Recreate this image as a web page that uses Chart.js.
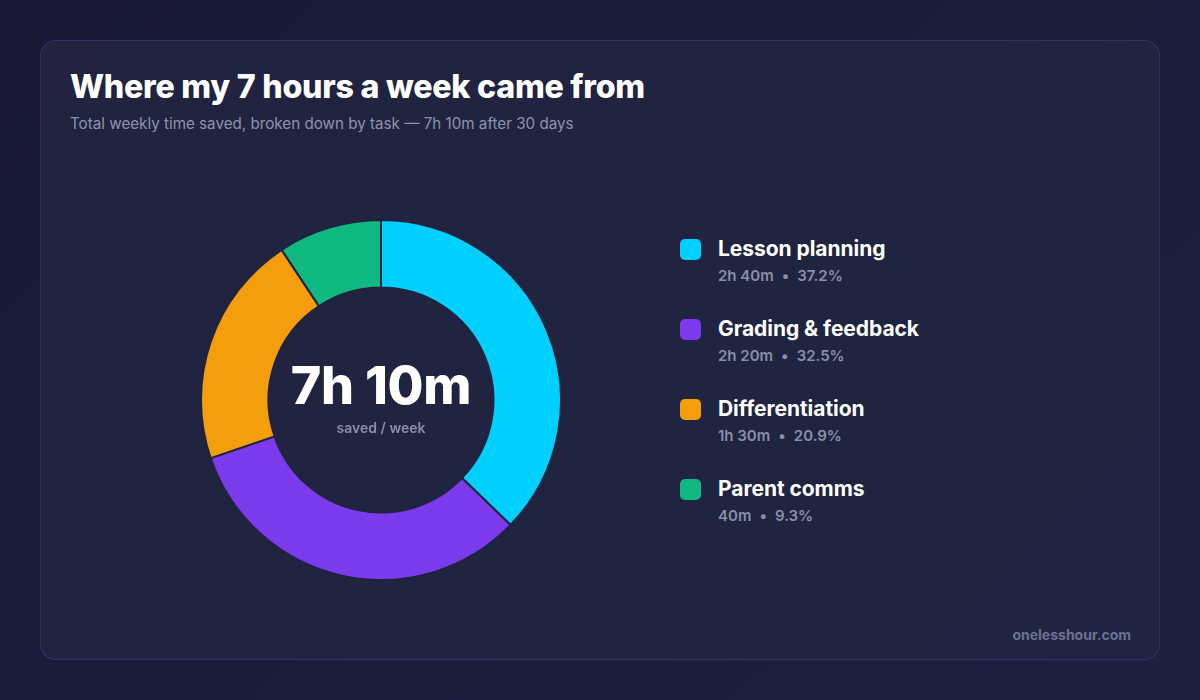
<!DOCTYPE html>
<html>
<head>
<meta charset="utf-8">
<script src="https://cdn.jsdelivr.net/npm/chart.js@4.4.1/dist/chart.umd.min.js"></script>
<style>
  html, body { margin: 0; padding: 0; }
  body {
    width: 1200px; height: 700px; overflow: hidden;
    background: linear-gradient(135deg, #181a34 0%, #1a1d3a 50%, #1c2142 100%);
    font-family: Inter, "Noto Sans", sans-serif;
  }
  .card {
    position: absolute; left: 40px; top: 40px; width: 1118px; height: 618px;
    border-radius: 16px;
    border: 1px solid rgba(110, 80, 220, 0.28);
    background: linear-gradient(135deg, #21233f 0%, #1f2440 60%, #1e2442 100%);
  }
  h1 {
    position: absolute; left: 29px; top: 26px; margin: 0;
    font-size: 32.2px; font-weight: 800; color: #ffffff; letter-spacing: -0.25px;
  }
  .sub {
    position: absolute; left: 29px; top: 73px;
    font-size: 15.2px; color: #8e93ad;
  }
  #wrap { position: absolute; left: 159px; top: 178px; width: 362px; height: 362px; }
  .center {
    position: absolute; left: 0; top: 0; width: 362px; height: 362px;
    text-align: center; pointer-events: none;
  }
  .big { position: absolute; left: 0; right: 0; top: 142px; font-size: 52px; line-height: 50px; font-weight: 800; color: #fff; letter-spacing: -0.3px; }
  .small { position: absolute; left: 0; right: 0; top: 202px; font-size: 14px; line-height: 14px; font-weight: 600; color: #8a8fa8; }
  #legend { position: absolute; left: 639px; top: 196px; }
  .item { position: relative; height: 80px; }
  .sw { position: absolute; left: 0; top: 2px; width: 21px; height: 21px; border-radius: 5px; }
  .lab { position: absolute; left: 38px; top: -1px; font-size: 21px; font-weight: 700; color: #fff; white-space: nowrap; letter-spacing: -0.05px; }
  .det { position: absolute; left: 38px; top: 29px; font-size: 15px; font-weight: 600; color: #8a8fa8; white-space: nowrap; }
  .det span { margin: 0 8px; }
  .foot { position: absolute; right: 28px; top: 585px; font-size: 14px; font-weight: 700; color: #6c7190; }
</style>
</head>
<body>
<div class="card">
  <h1>Where my 7 hours a week came from</h1>
  <div class="sub">Total weekly time saved, broken down by task — 7h 10m after 30 days</div>
  <div id="wrap">
    <canvas id="donut"></canvas>
    <div class="center">
      <div class="big" id="total"></div>
      <div class="small">saved / week</div>
    </div>
  </div>
  <div id="legend"></div>
  <div class="foot">onelesshour.com</div>
</div>
<script>
var tasks = ["Lesson planning", "Grading & feedback", "Differentiation", "Parent comms"];
var minutes = [160, 140, 90, 40];
var durations = ["2h 40m", "2h 20m", "1h 30m", "40m"];
var shares = ["37.2%", "32.5%", "20.9%", "9.3%"];
var colors = ["#00d0ff", "#7c3aed", "#f59e0b", "#10b981"];
var totalLabel = "7h 10m";

window.onload = () => {
    document.getElementById('total').innerHTML = totalLabel;

    let html = '';
    for (let i = 0; i < tasks.length; i++) {
        html += `<div class="item">
    <div class="sw" style="background:${colors[i]}"></div>
    <div class="lab">${tasks[i].replace('&', '&amp;')}</div>
    <div class="det">${durations[i]}<span>•</span>${shares[i]}</div>
</div>`;
    }
    document.getElementById('legend').innerHTML = html;

    new Chart(document.getElementById('donut'), {
        type: 'doughnut',
        data: {
            labels: tasks,
            datasets: [{
                data: minutes,
                backgroundColor: colors,
                borderColor: '#1e2340',
                borderWidth: 2
            }]
        },
        options: {
            responsive: true,
            maintainAspectRatio: false,
            animation: false,
            cutout: '62.5%',
            plugins: {
                legend: { display: false },
                tooltip: { enabled: false }
            }
        }
    });
};
</script>
</body>
</html>
